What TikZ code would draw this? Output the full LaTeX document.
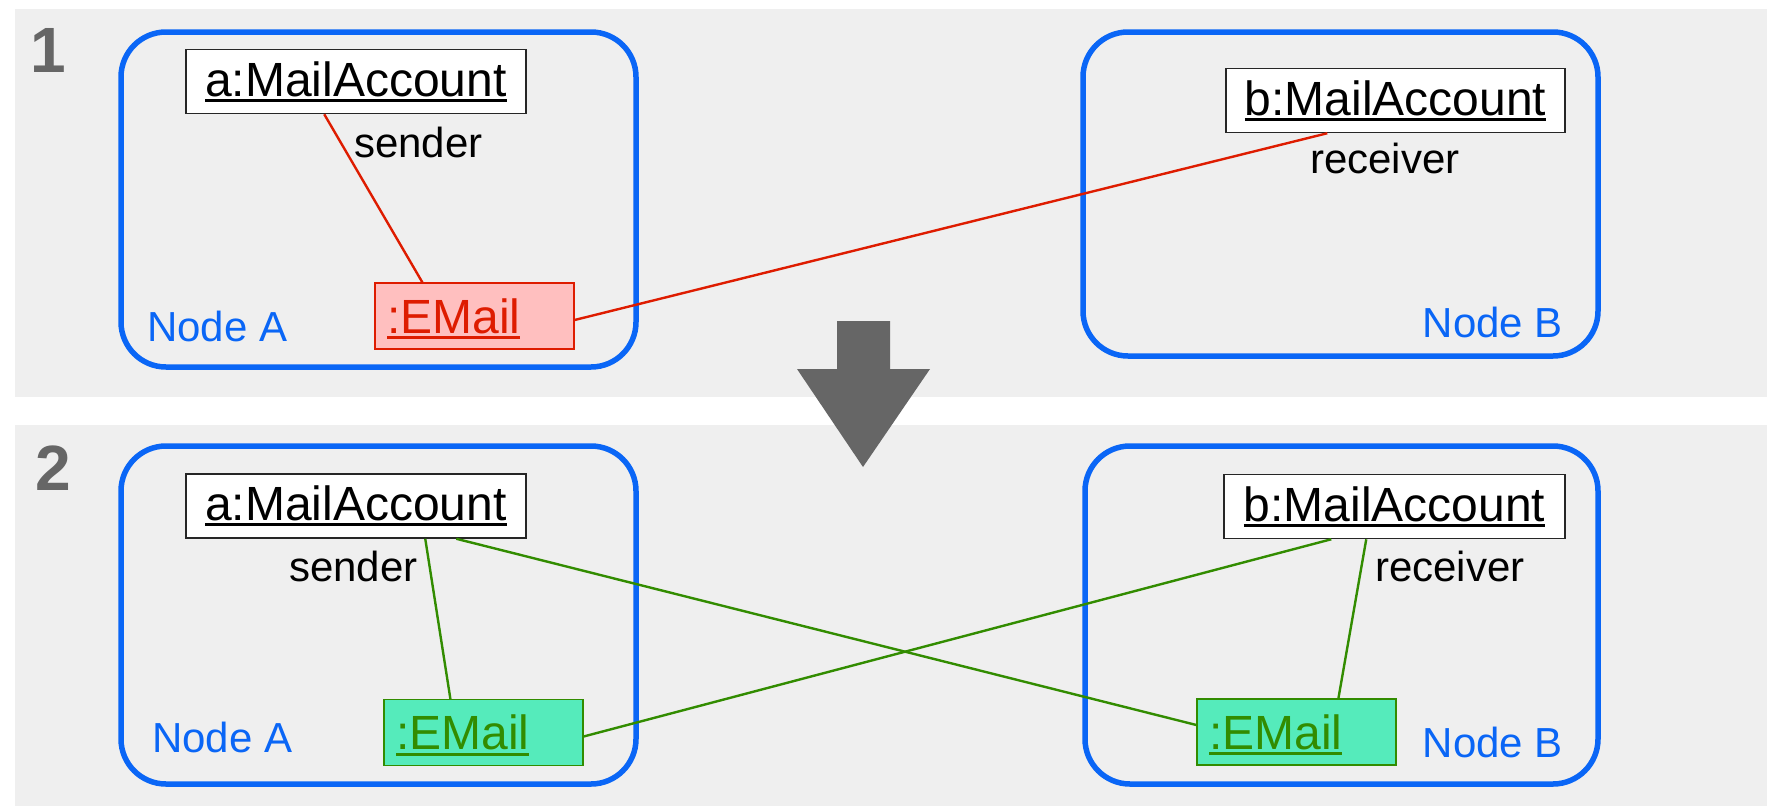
\documentclass[tikz,border=0pt]{standalone}
\usepackage{fontspec}
\setmainfont{Liberation Sans}
\usetikzlibrary{calc}

\definecolor{panelgrey}{RGB}{239,239,239}
\definecolor{nodeblue}{RGB}{10,102,246}
\definecolor{delred}{RGB}{222,28,0}
\definecolor{delfill}{RGB}{255,191,191}
\definecolor{newgreen}{RGB}{50,140,0}
\definecolor{newfill}{RGB}{85,235,187}
\definecolor{arrowgrey}{RGB}{102,102,102}

% underlined object name (UML instance notation)
\newcommand{\objname}[1]{\setbox0=\hbox{#1}\rlap{\rule[-0.12em]{\wd0}{0.065em}}\box0}

\tikzset{
  deploy/.style={draw=nodeblue, line width=5.5pt, rounded corners=45pt,
    minimum width=515pt, inner sep=0pt},
  obj/.style={draw=black!85, line width=1.5pt, fill=white, inner sep=0pt,
    minimum width=340pt, minimum height=64pt,
    font=\fontsize{48pt}{50pt}\selectfont},
  mail/.style={line width=1.2pt, inner ysep=0pt, inner xsep=12pt,
    text width=175pt, align=left, minimum height=66pt, text depth=0pt,
    font=\fontsize{48pt}{50pt}\selectfont},
  oldmail/.style={mail, draw=delred, fill=delfill, text=delred},
  newmail/.style={mail, draw=newgreen, fill=newfill, text=newgreen},
  role/.style={inner sep=0pt, anchor=base west, font=\fontsize{42pt}{44pt}\selectfont},
  hostlabel/.style={inner sep=0pt, text=nodeblue, font=\fontsize{42pt}{44pt}\selectfont},
  stepno/.style={inner sep=0pt, anchor=base west, text=arrowgrey,
    font=\fontsize{64pt}{66pt}\selectfont\bfseries},
  oldlink/.style={draw=delred, line width=2.4pt},
  newlink/.style={draw=newgreen, line width=2.4pt},
}

\begin{document}
\begin{tikzpicture}[x=1pt, y=-1pt]
  \path[use as bounding box] (0,0) rectangle (1767,806);

  % step backgrounds
  \fill[panelgrey] (15,9) rectangle (1767,397);
  \fill[panelgrey] (15,425) rectangle (1767,806);

  % ---------- step 1 ----------
  \node[stepno] (n1) at (30,72) {1};
  \node[deploy, minimum height=335pt] (hostA1) at (378.5,199.5) {};
  \node[deploy, minimum height=324pt] (hostB1) at (1340.5,194) {};
  \node[hostlabel, anchor=base west] (labA1) at (147,341) {Node A};
  \node[hostlabel, anchor=base east] (labB1) at (1563,337) {Node B};

  \node[obj] (a1) at (356,81.5) {\objname{a:MailAccount}};
  \node[obj, minimum width=339pt] (b1) at (1395.5,100.5) {\objname{b:MailAccount}};
  \node[oldmail] (e1) at (474.5,316) {\objname{:EMail}};

  \node[role] (snd1) at (354,157) {sender};
  \node[role] (rcv1) at (1310,173) {receiver};

  \draw[oldlink] ($(a1.south west)+(139,0)$) -- ($(e1.north west)+(48,0)$);
  \draw[oldlink] ($(e1.east)+(0,4)$) -- ($(b1.south west)+(102,0)$);

  % transition arrow
  \fill[arrowgrey] (837,321) -- (890,321) -- (890,369) -- (930,369)
    -- (863,467) -- (797,369) -- (837,369) -- cycle;

  % ---------- step 2 ----------
  \node[stepno] (n2) at (35,490) {2};
  \node[deploy, minimum height=338pt] (hostA2) at (378.5,615) {};
  \node[deploy, minimum height=338pt, minimum width=513pt] (hostB2) at (1341.5,615) {};
  \node[hostlabel, anchor=base west] (labA2) at (152,752) {Node A};
  \node[hostlabel, anchor=base east] (labB2) at (1563,757) {Node B};

  \node[obj] (a2) at (356,506) {\objname{a:MailAccount}};
  \node[obj, minimum width=341pt] (b2) at (1394.5,506.5) {\objname{b:MailAccount}};
  \node[newmail] (e2a) at (483.5,732.5) {\objname{:EMail}};
  \node[newmail] (e2b) at (1296.5,732) {\objname{:EMail}};

  \node[role] (snd2) at (289,581) {sender};
  \node[role] (rcv2) at (1375,581) {receiver};

  \draw[newlink] ($(a2.south west)+(240,0)$) -- ($(e2a.north west)+(67,0)$);
  \draw[newlink] ($(a2.south west)+(271,0)$) -- ($(e2b.west)+(0,-7)$);
  \draw[newlink] ($(e2a.east)+(0,4)$) -- ($(b2.south west)+(108,0)$);
  \draw[newlink] ($(b2.south west)+(143,0)$) -- ($(e2b.north west)+(142,0)$);
\end{tikzpicture}
\end{document}
